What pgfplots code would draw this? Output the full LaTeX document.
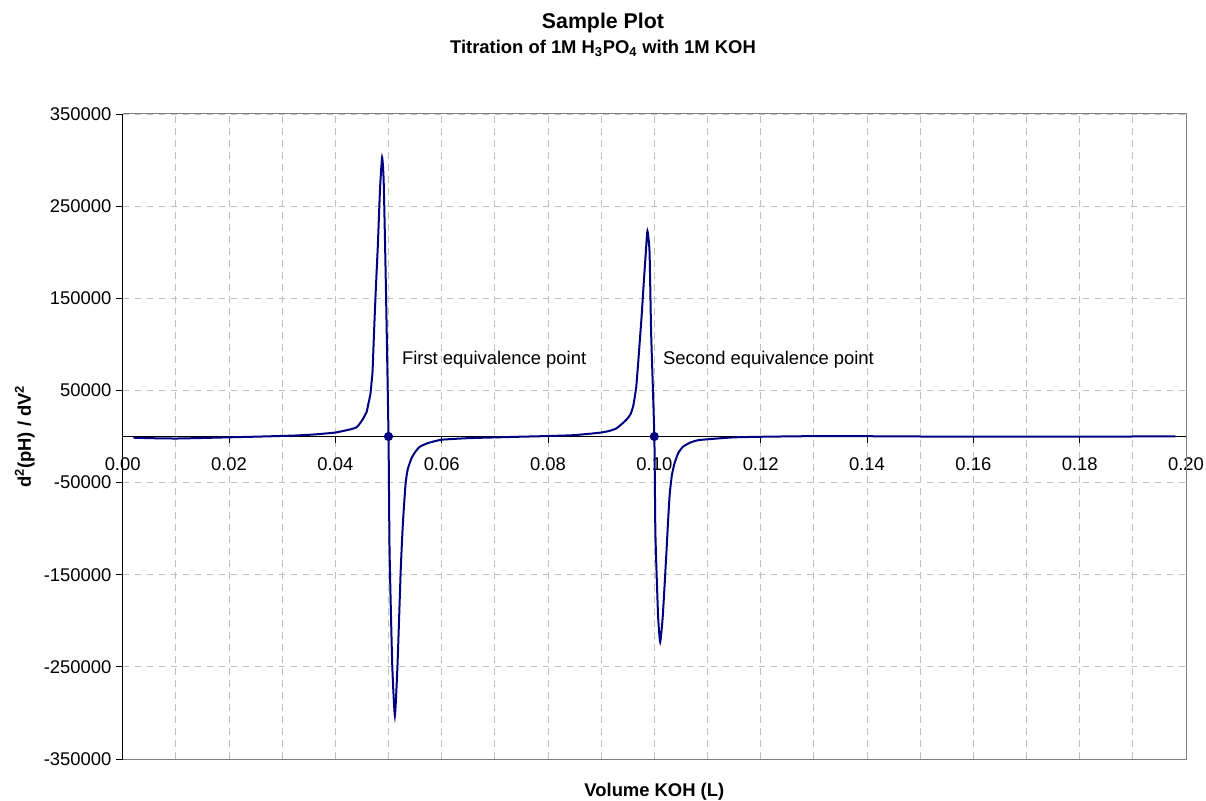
\documentclass[border=0pt]{standalone}
\usepackage{fontspec}
\setmainfont{Liberation Sans}
\usepackage{pgfplots}
\usepackage{pgfplotstable}
\pgfplotsset{compat=1.18}

\definecolor{curve}{RGB}{0,0,128}
\definecolor{gridgray}{RGB}{192,192,192}
\definecolor{framegray}{RGB}{128,128,128}

% second derivative of the titration curve
\pgfplotstableread{
x       y
0.002   -1300
0.005   -1800
0.010   -2200
0.015   -1600
0.020   -900
0.025   -200
0.030   600
0.033   1200
0.036   2200
0.040   4300
0.043   8000
0.0440  10000
0.0446  14000
0.0452  19000
0.0459  27000
0.0462  35000
0.0466  46000
0.0468  58000
0.0470  71000
0.0473  116000
0.0476  158000
0.0480  208000
0.0484  268000
0.0488  303000
0.0491  276000
0.0495  166000
0.0500  0
0.0502  -124000
0.0507  -247000
0.0512  -303000
0.0517  -247000
0.0523  -145000
0.0527  -95000
0.0532  -52000
0.0536  -36000
0.0543  -24000
0.0550  -17000
0.0559  -11000
0.0575  -7000
0.0600  -3500
0.0650  -1800
0.0700  -1000
0.0750  -200
0.0800  500
0.0850  1500
0.0897  4100
0.0915  6000
0.0929  8900
0.0947  17900
0.0955  24000
0.0960  32400
0.0963  42000
0.0966  54000
0.0968  68000
0.0970  83000
0.0976  130000
0.0980  166000
0.0984  200000
0.0987  223000
0.0991  200000
0.0994  112000
0.1000  0
0.1002  -105000
0.1007  -194000
0.1011  -223000
0.1016  -194000
0.1023  -123000
0.1026  -90000
0.1029  -62000
0.1033  -42000
0.1038  -29000
0.1045  -18000
0.1054  -11000
0.1068  -6500
0.1085  -3800
0.1147  -1000
0.1200  -300
0.1300  400
0.1400  300
0.1500  0
0.1600  -100
0.1700  -100
0.1800  -100
0.1900  0
0.1980  0
}\dtitr

\begin{document}
\begin{tikzpicture}
\begin{axis}[
    name=ax, at={(0,0)}, anchor=south west,
    scale only axis, width=797.5pt, height=483.75pt,
    xmin=0, xmax=0.2, ymin=-350000, ymax=350000,
    axis x line*=middle, axis y line*=left,
    hide obscured x ticks=false,
    clip mode=individual,
    xtick={0,0.02,0.04,0.06,0.08,0.10,0.12,0.14,0.16,0.18,0.20},
    minor xtick={0.01,0.03,0.05,0.07,0.09,0.11,0.13,0.15,0.17,0.19},
    ytick={-350000,-250000,-150000,-50000,50000,150000,250000,350000},
    scaled x ticks=false, scaled y ticks=false,
    tick align=outside, major tick length=5pt, minor tick length=0pt,
    tick style={black, line width=0.6pt},
    axis line style={black, line width=0.6pt},
    xmajorgrids, xminorgrids, ymajorgrids,
    grid style={gridgray, dash pattern=on 5pt off 4pt, line width=0.7pt},
    minor grid style={gridgray, dash pattern=on 5pt off 4pt, line width=0.7pt},
    ticklabel style={font=\fontsize{13.8}{16}\selectfont},
    /pgf/number format/assume math mode=true,
    xticklabel style={anchor=base, yshift=-20.75pt,
        /pgf/number format/.cd, fixed, fixed zerofill, precision=2},
    yticklabel style={/pgf/number format/.cd, fixed, precision=0, 1000 sep={}},
    xlabel={Volume KOH (L)},
    ylabel={d\textsuperscript{2}(pH) / dV\textsuperscript{2}},
    every axis x label/.style={at={(axis description cs:0.5,0)}, anchor=base,
        yshift=-27.75pt, font=\bfseries\fontsize{13.8}{16}\selectfont},
    every axis y label/.style={at={(axis description cs:-0.0863,0.5)}, rotate=90,
        anchor=base, font=\bfseries\fontsize{13.8}{16}\selectfont},
    title={Sample Plot},
    every axis title/.style={at={(axis description cs:0.4517,1)}, anchor=base,
        yshift=64.3pt, font=\bfseries\fontsize{16}{19}\selectfont},
]
\addplot[curve, line width=1.5pt, smooth, tension=0.3] table {\dtitr};
\addplot[only marks, mark=*, mark size=3.2pt, curve] coordinates {(0.05,0) (0.10,0)};

\draw[framegray, line width=0.75pt] (rel axis cs:0,1) -- (rel axis cs:1,1)
    -- (rel axis cs:1,0) -- (rel axis cs:0,0);

\node[anchor=base, yshift=45.5pt, font=\bfseries\fontsize{13.8}{16}\selectfont]
    at (axis description cs:0.4517,1)
    {Titration of 1M H\textsubscript{3}PO\textsubscript{4} with 1M KOH};

\node[anchor=west, inner sep=0pt, font=\fontsize{13.8}{16}\selectfont]
    at (axis cs:0.0525,83000) {First equivalence point};
\node[anchor=west, inner sep=0pt, font=\fontsize{13.8}{16}\selectfont]
    at (axis cs:0.1016,83000) {Second equivalence point};
\end{axis}
\pgfresetboundingbox
\path ([shift={(-92pt,-30.75pt)}]ax.south west) rectangle ([shift={(15pt,85.5pt)}]ax.north east);
\end{tikzpicture}
\end{document}
